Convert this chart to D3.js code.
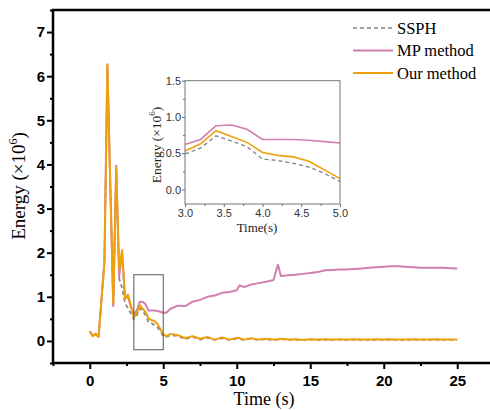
<!DOCTYPE html>
<html>
<head>
<meta charset="utf-8">
<script src="https://cdn.jsdelivr.net/npm/d3@7"></script>
<style>
  body { margin: 0; background: #fff; }
  svg { display: block; }
  .axis text { font-family: Arial, "Liberation Sans", sans-serif; }
</style>
</head>
<body>
<div id="chart"></div>
<script>
// Dados (Energia x10^6)
const times = [0, 0.2, 0.4, 0.6, 0.8, 1.0, 1.2, 1.4, 1.6, 1.8, 2.0, 2.2, 2.4, 2.6, 2.8,
  3.0, 3.2, 3.4, 3.6, 3.8, 4.0, 4.2, 4.4, 4.6, 4.8, 5.0,
  5.2, 5.5, 6, 6.5, 7, 7.5, 8, 8.5, 9, 9.5, 10, 10.2, 10.5, 11, 11.5, 12, 12.5, 12.8,
  13, 13.5, 14, 14.5, 15, 15.5, 16, 16.5, 17, 17.5, 18, 18.5, 19, 19.5, 20, 20.5,
  21, 21.5, 22, 22.5, 23, 23.5, 24, 24.5, 25];

const ssph = [0.22, 0.11, 0.16, 0.09, 0.95, 1.80, 6.20, 3.45, 0.80, 3.85, 1.42, 1.20, 0.85, 0.74, 0.62,
  0.49, 0.57, 0.74, 0.67, 0.59, 0.42, 0.40, 0.36, 0.31, 0.22, 0.11,
  0.09, 0.13, 0.11, 0.04, 0.09, 0.03, 0.07, 0.02, 0.06, 0.02, 0.05, 0.04, 0.02, 0.05, 0.02, 0.04, 0.02, 0.03,
  0.04, 0.02, 0.03, 0.02, 0.03, 0.02, 0.03, 0.02, 0.03, 0.02, 0.03, 0.02, 0.02, 0.03, 0.02, 0.03,
  0.02, 0.02, 0.03, 0.02, 0.02, 0.03, 0.02, 0.02, 0.02];

const mpMethod = [0.22, 0.11, 0.16, 0.09, 0.95, 1.80, 6.25, 3.50, 0.79, 3.97, 1.45, 2.00, 0.95, 1.02, 0.76,
  0.62, 0.69, 0.88, 0.89, 0.83, 0.69, 0.69, 0.69, 0.68, 0.66, 0.64,
  0.64, 0.73, 0.80, 0.79, 0.89, 0.93, 1.00, 1.03, 1.09, 1.11, 1.15, 1.26, 1.22, 1.28, 1.31, 1.34, 1.38, 1.73,
  1.47, 1.49, 1.50, 1.52, 1.54, 1.56, 1.60, 1.61, 1.62, 1.62, 1.63, 1.64, 1.66, 1.67, 1.68, 1.69,
  1.69, 1.68, 1.67, 1.66, 1.66, 1.66, 1.66, 1.65, 1.64];

const ourMethod = [0.22, 0.11, 0.16, 0.09, 0.95, 1.80, 6.27, 3.50, 0.85, 3.93, 1.62, 2.06, 0.95, 1.05, 0.80,
  0.53, 0.63, 0.81, 0.73, 0.65, 0.51, 0.47, 0.45, 0.39, 0.27, 0.15,
  0.11, 0.16, 0.13, 0.06, 0.11, 0.05, 0.09, 0.03, 0.08, 0.03, 0.07, 0.06, 0.03, 0.06, 0.03, 0.05, 0.03, 0.04,
  0.05, 0.03, 0.04, 0.02, 0.04, 0.03, 0.04, 0.03, 0.04, 0.03, 0.04, 0.03, 0.03, 0.04, 0.03, 0.04,
  0.03, 0.03, 0.04, 0.03, 0.03, 0.04, 0.03, 0.03, 0.03];

const series = [
  { name: "SSPH", values: ssph, color: "#808080", dash: "4,3", width: 1.6 },
  { name: "MP method", values: mpMethod, color: "#d07fb0", dash: null, width: 2 },
  { name: "Our method", values: ourMethod, color: "#efa10c", dash: null, width: 2 }
];

const xTicks = [0, 5, 10, 15, 20, 25];
const yTicks = [0, 1, 2, 3, 4, 5, 6, 7];
const insetXTicks = [3.0, 3.5, 4.0, 4.5, 5.0];
const insetYTicks = [0.0, 0.5, 1.0, 1.5];

const W = 490, H = 410;
const svg = d3.select("#chart").append("svg").attr("width", W).attr("height", H);

// Escalas principais
const x = d3.scaleLinear().domain([-2.5, 27.5]).range([53, 494]);
const y = d3.scaleLinear().domain([-0.5, 7.5]).range([363, 10]);

const line = d3.line().x(d => x(d[0])).y(d => y(d[1]));

// Linhas principais
series.forEach(s => {
  svg.append("path")
    .datum(times.map((t, i) => [t, s.values[i]]))
    .attr("fill", "none")
    .attr("stroke", s.color)
    .attr("stroke-width", s.width)
    .attr("stroke-dasharray", s.dash)
    .attr("stroke-linejoin", "round")
    .attr("d", line);
});

// Retângulo de zoom
svg.append("rect")
  .attr("x", x(3)).attr("y", y(1.5))
  .attr("width", x(5) - x(3)).attr("height", y(-0.2) - y(1.5))
  .attr("fill", "none").attr("stroke", "#555").attr("stroke-width", 1);

// Eixos
const minorX = d3.range(-2.5, 27.6, 5);
const minorY = d3.range(-0.5, 7.6, 1);

const gx = svg.append("g").attr("class", "axis").attr("transform", `translate(0,${y(-0.5)})`)
  .call(d3.axisBottom(x).tickValues(xTicks).tickSize(6).tickSizeOuter(0).tickPadding(6));
svg.append("g").attr("class", "axis").attr("transform", `translate(0,${y(-0.5)})`)
  .call(d3.axisBottom(x).tickValues(minorX).tickSize(3).tickFormat(""));
const gy = svg.append("g").attr("class", "axis").attr("transform", `translate(${x(-2.5)},0)`)
  .call(d3.axisLeft(y).tickValues(yTicks).tickSize(6).tickSizeOuter(0).tickPadding(2));
svg.append("g").attr("class", "axis").attr("transform", `translate(${x(-2.5)},0)`)
  .call(d3.axisLeft(y).tickValues(minorY).tickSize(3).tickFormat(""));

svg.selectAll(".axis .domain").remove();
svg.selectAll(".axis line").attr("stroke", "#000").attr("stroke-width", 2);
svg.selectAll(".axis text").attr("font-size", 15).attr("font-weight", "bold").attr("fill", "#000");

// Moldura
svg.append("rect")
  .attr("x", x(-2.5)).attr("y", y(7.5))
  .attr("width", x(27.5) - x(-2.5)).attr("height", y(-0.5) - y(7.5))
  .attr("fill", "none").attr("stroke", "#000").attr("stroke-width", 2.5);

// Títulos dos eixos
svg.append("text")
  .attr("x", 264).attr("y", 405)
  .attr("text-anchor", "middle")
  .attr("font-family", "'Liberation Serif', 'Times New Roman', serif")
  .attr("font-size", 18)
  .text("Time (s)");

const yl = svg.append("text")
  .attr("transform", "translate(25,186) rotate(-90)")
  .attr("text-anchor", "middle")
  .attr("font-family", "'Liberation Serif', 'Times New Roman', serif")
  .attr("font-size", 19);
yl.append("tspan").text("Energy (×10");
yl.append("tspan").attr("font-size", 12).attr("dy", -8).text("6");
yl.append("tspan").attr("dy", 8).text(")");

// Legenda
const legend = svg.append("g");
series.forEach((s, i) => {
  const ly = 28 + i * 22.5;
  legend.append("line")
    .attr("x1", 353).attr("x2", 393).attr("y1", ly).attr("y2", ly)
    .attr("stroke", s.color).attr("stroke-width", s.dash ? 1.6 : 2)
    .attr("stroke-dasharray", s.dash);
  legend.append("text")
    .attr("x", 397).attr("y", ly + 5.5)
    .attr("font-family", "'Liberation Serif', 'Times New Roman', serif")
    .attr("font-size", 16.5)
    .text(s.name);
});

// Inset
const ix = d3.scaleLinear().domain([3, 5]).range([185, 340]);
const iy = d3.scaleLinear().domain([-0.2, 1.5]).range([204, 80.7]);
const iline = d3.line().x(d => ix(d[0])).y(d => iy(d[1]));

svg.append("rect")
  .attr("x", 185).attr("y", 80.7).attr("width", 155).attr("height", 123.3)
  .attr("fill", "#fff");

series.forEach(s => {
  const pts = times.map((t, i) => [t, s.values[i]]).filter(d => d[0] >= 2.99 && d[0] <= 5.01);
  svg.append("path")
    .datum(pts)
    .attr("fill", "none")
    .attr("stroke", s.color)
    .attr("stroke-width", s.dash ? 1.3 : 1.6)
    .attr("stroke-dasharray", s.dash ? "4,3" : null)
    .attr("d", iline);
});

const iax = svg.append("g").attr("class", "inset");
iax.append("g").attr("transform", "translate(0,204)")
  .call(d3.axisBottom(ix).tickValues(insetXTicks).tickSize(3).tickSizeOuter(0).tickPadding(2).tickFormat(d3.format(".1f")));
iax.append("g").attr("transform", "translate(0,204)")
  .call(d3.axisBottom(ix).tickValues([3.25, 3.75, 4.25, 4.75]).tickSize(2).tickFormat(""));
iax.append("g").attr("transform", "translate(185,0)")
  .call(d3.axisLeft(iy).tickValues(insetYTicks).tickSize(3).tickSizeOuter(0).tickPadding(1).tickFormat(d3.format(".1f")));
iax.append("g").attr("transform", "translate(185,0)")
  .call(d3.axisLeft(iy).tickValues([0.25, 0.75, 1.25]).tickSize(2).tickFormat(""));
iax.selectAll(".domain").remove();
iax.selectAll("line").attr("stroke", "#666");
iax.selectAll("text").attr("font-family", "Arial, 'Liberation Sans', sans-serif").attr("font-size", 11).attr("fill", "#333");

svg.append("rect")
  .attr("x", 185).attr("y", 80.7).attr("width", 155).attr("height", 123.3)
  .attr("fill", "none").attr("stroke", "#777").attr("stroke-width", 1);

svg.append("text")
  .attr("x", 257).attr("y", 232)
  .attr("text-anchor", "middle")
  .attr("font-family", "'Liberation Serif', 'Times New Roman', serif")
  .attr("font-size", 13)
  .attr("fill", "#222")
  .text("Time(s)");

const iyl = svg.append("text")
  .attr("transform", "translate(161,145) rotate(-90)")
  .attr("text-anchor", "middle")
  .attr("font-family", "'Liberation Serif', 'Times New Roman', serif")
  .attr("font-size", 13.5)
  .attr("fill", "#222");
iyl.append("tspan").text("Energy (×10");
iyl.append("tspan").attr("font-size", 9).attr("dy", -6).text("6");
iyl.append("tspan").attr("dy", 6).text(")");
</script>
</body>
</html>
